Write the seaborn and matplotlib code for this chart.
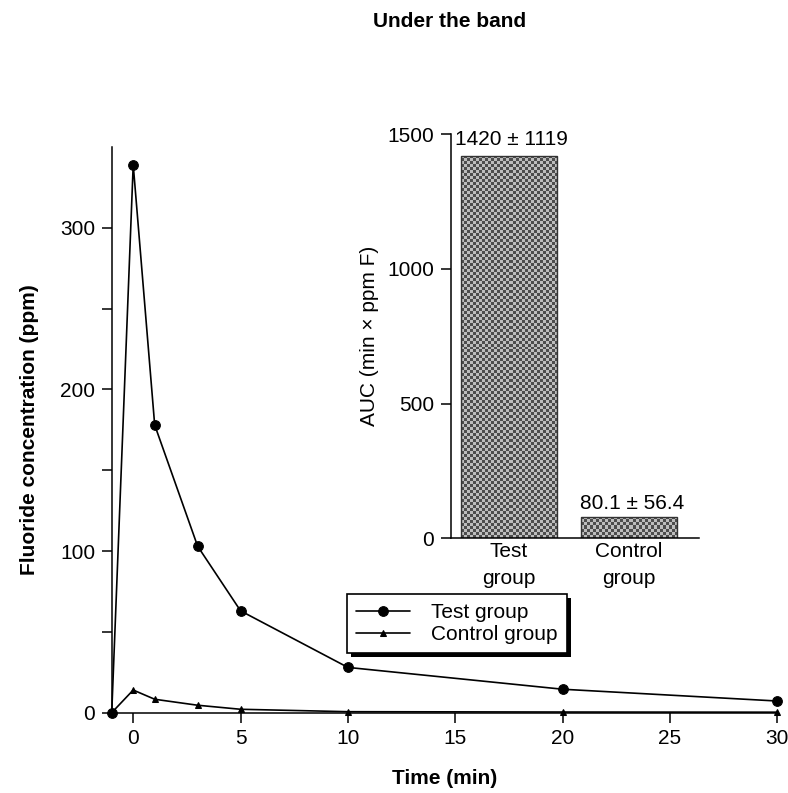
import numpy as np
import pandas as pd
import matplotlib
matplotlib.use("Agg")
import matplotlib.pyplot as plt
import matplotlib.patheffects as pe
import seaborn as sns

# Fluoride concentration over time (ppm)
time_min = [-1, 0, 1, 3, 5, 10, 20, 30]
test_ppm = [0, 339, 178, 103, 63, 28, 14.5, 7.2]
control_ppm = [0, 14, 8.3, 4.6, 2.1, 0.6, 0.4, 0.3]
group_names = ["Test group", "Control group"]

# Area under the curve (inset)
auc_groups = ["Test\ngroup", "Control\ngroup"]
auc_mean = [1420, 80.1]
auc_sd = [1119, 56.4]

x_ticks = [0, 5, 10, 15, 20, 25, 30]
y_major = [0, 100, 200, 300]
y_minor = [50, 150, 250]
auc_ticks = [0, 500, 1000, 1500]

sns.set_style("ticks")
plt.rcParams["font.family"] = ["Liberation Sans", "DejaVu Sans"]
plt.rcParams.update({
    "axes.linewidth": 1.1,
    "axes.edgecolor": "black",
    "axes.labelcolor": "black",
    "text.color": "black",
    "xtick.color": "black",
    "ytick.color": "black",
    "xtick.major.width": 1.1,
    "ytick.major.width": 1.1,
    "ytick.minor.width": 1.1,
})

df = pd.DataFrame({
    "time": time_min * 2,
    "ppm": test_ppm + control_ppm,
    "group": [group_names[0]] * len(time_min) + [group_names[1]] * len(time_min),
})

fig = plt.figure(figsize=(7.88, 7.93), dpi=100)
ax = fig.add_axes([0.1418, 0.1013, 0.8447, 0.7134])

sns.lineplot(data=df, x="time", y="ppm", hue="group", style="group",
             palette=["black", "black"], markers={group_names[0]: "o", group_names[1]: "^"},
             dashes=False, linewidth=1.2, markeredgecolor="black", ax=ax)
for line, ms in zip(ax.lines[:2], [7, 5]):
    line.set_markersize(ms)
    line.set_clip_on(False)

ax.set_xlim(-1, 30)
ax.set_ylim(0, 350)
ax.set_xticks(x_ticks)
ax.set_yticks(y_major)
ax.set_yticks(y_minor, minor=True)
ax.tick_params(axis="both", which="both", length=7, labelsize=15, pad=5, direction="out")
sns.despine(ax=ax)
ax.set_xlabel("Time (min)", fontsize=15, fontweight="bold", labelpad=15)
ax.set_ylabel("Fluoride concentration (ppm)", fontsize=15, fontweight="bold", labelpad=15)

# legend with hard black shadow
handles, labels = ax.get_legend_handles_labels()
for h, ms in zip(handles, [7, 5]):
    h.set_markersize(ms)
leg = ax.legend(handles, labels, loc="upper left", bbox_to_anchor=(0.44, 0.251),
                bbox_transform=fig.transFigure, borderaxespad=0, fontsize=15,
                frameon=True, fancybox=False, handlelength=2.6, handletextpad=1.0,
                labelspacing=0.12, borderpad=0.45)
frame = leg.get_frame()
frame.set_edgecolor("black")
frame.set_linewidth(1.2)
frame.set_alpha(1)
frame.set_path_effects([pe.SimplePatchShadow(offset=(3, -3), shadow_rgbFace="black", alpha=1),
                        pe.Normal()])

# inset bar chart
ax_in = fig.add_axes([0.5723, 0.3212, 0.3147, 0.5098])
auc_df = pd.DataFrame({"group": auc_groups, "auc": auc_mean})
sns.barplot(data=auc_df, x="group", y="auc", color="#888888", width=0.8,
            edgecolor="#333333", linewidth=1.0, ax=ax_in)
ax_in.set_xlim(-0.48, 1.58)
ax_in.set_ylim(0, 1500)
ax_in.set_yticks(auc_ticks)
ax_in.tick_params(axis="y", length=7, labelsize=15, pad=5)
ax_in.tick_params(axis="x", length=0, labelsize=15, pad=3)
for lab in ax_in.get_xticklabels():
    lab.set_linespacing(1.5)
ax_in.set_xlabel("")
ax_in.set_ylabel("AUC (min \u00d7 ppm F)", fontsize=15, labelpad=6)
ax_in.patch.set_alpha(0)
sns.despine(ax=ax_in)

# checkerboard fill for the bars
fig.canvas.draw()
cell = 3.0
for patch in ax_in.patches:
    bb = patch.get_window_extent()
    ncol = max(1, int(round(bb.width / cell)))
    nrow = max(1, int(round(bb.height / cell)))
    checker = (np.add.outer(np.arange(nrow), np.arange(ncol)) % 2).astype(float)
    x0, y0 = patch.get_x(), patch.get_y()
    w, h = patch.get_width(), patch.get_height()
    im = ax_in.imshow(checker, cmap=matplotlib.colors.ListedColormap(["#4d4d4d", "#bdbdbd"]),
                      extent=(x0, x0 + w, y0, y0 + h), aspect="auto",
                      interpolation="nearest", origin="lower", zorder=patch.get_zorder() - 0.01)
    im.set_clip_path(patch)
    patch.set_facecolor("none")
ax_in.set_xlim(-0.48, 1.58)
ax_in.set_ylim(0, 1500)

for i, (m, sd) in enumerate(zip(auc_mean, auc_sd)):
    ax_in.annotate(f"{m:g} \u00b1 {sd:g}", xy=(i, m), xytext=(2, 5 if i == 0 else 3),
                   textcoords="offset points", ha="center", va="bottom", fontsize=15)

fig.suptitle("Under the band", x=0.57, y=0.985, fontsize=15, fontweight="bold")

fig.savefig("out.png", dpi=100)
